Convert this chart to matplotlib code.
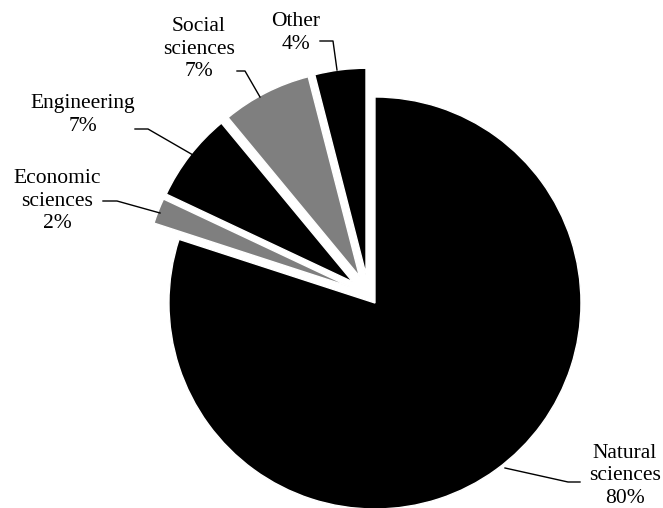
import matplotlib
matplotlib.use("Agg")
import matplotlib.pyplot as plt

# Data
categories = ["Natural\nsciences", "Economic\nsciences", "Engineering", "Social\nsciences", "Other"]
shares = [80, 2, 7, 7, 4]
colors = ["#000000", "#7f7f7f", "#000000", "#7f7f7f", "#000000"]

W, H = 663, 508
fig = plt.figure(figsize=(W / 100, H / 100), dpi=100)
ax = fig.add_axes([0, 0, 1, 1])

radius = 206
center = (368.5, 294.1)
# explode distances in pixel units (pie uses absolute offsets)
explode = [11, 20, 20, 20, 20]

ax.pie(shares, colors=colors, startangle=-90, counterclock=True,
       radius=radius, center=center, explode=explode,
       wedgeprops=dict(edgecolor="white", linewidth=1.0))

ax.set_xlim(0, W)
ax.set_ylim(H, 0)
ax.set_aspect("auto")
ax.axis("off")

# Label positions (pixel coords) and leader lines
label_pos = [(625, 476), (57, 201), (83, 115), (199, 49), (296, 33)]
leaders = [
    [(505, 468), (568, 482), (580, 482)],
    [(103, 201), (117, 201), (160, 213)],
    [(135, 129), (148, 129), (193, 155)],
    [(237, 71), (245, 71), (260, 97)],
    [(320, 41), (333, 41), (337, 70)],
]

for cat, val, (x, y), line in zip(categories, shares, label_pos, leaders):
    ax.text(x, y, f"{cat}\n{val}%", ha="center", va="center",
            fontsize=15.5, family="Liberation Serif", linespacing=1.25)
    xs = [p[0] for p in line]
    ys = [p[1] for p in line]
    ax.plot(xs, ys, color="black", linewidth=1.0)

fig.savefig("out.png", dpi=100)
